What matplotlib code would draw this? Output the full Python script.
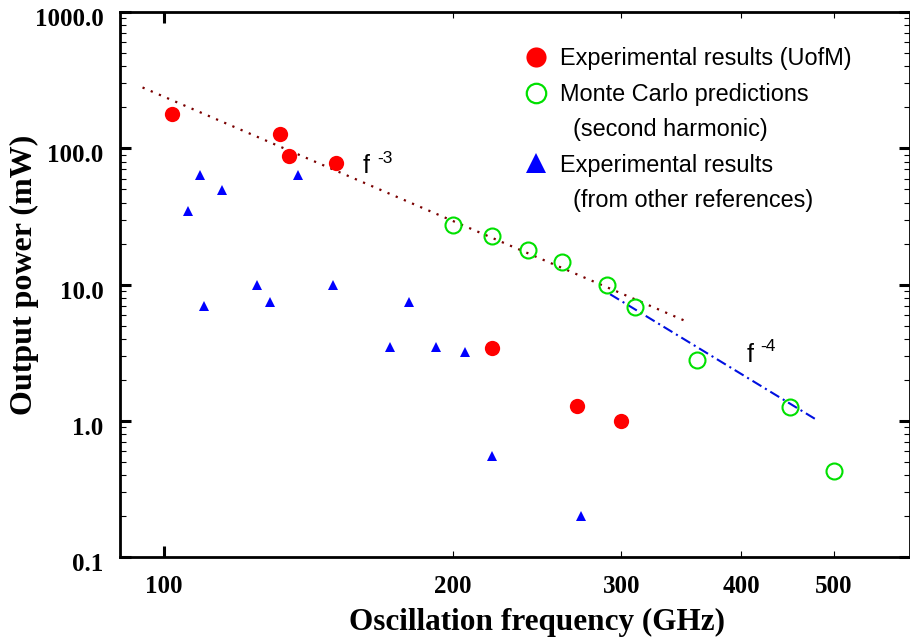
import matplotlib
matplotlib.use('Agg')
import matplotlib.pyplot as plt
import matplotlib.transforms as mtransforms
from matplotlib.lines import Line2D
from matplotlib.ticker import FixedLocator, FixedFormatter, NullFormatter

SERIF = ['Liberation Serif', 'DejaVu Serif']
SANS = ['Liberation Sans', 'DejaVu Sans']

# Experimental results (UofM)
uofm_freq = [102, 132, 135, 151, 220, 270, 300]
uofm_power = [180, 127, 88, 78, 3.45, 1.28, 1.0]

# Monte Carlo predictions (second harmonic)
mc_freq = [200, 220, 240, 260, 290, 310, 360, 450, 500]
mc_power = [27.6, 22.7, 17.8, 14.7, 9.9, 6.9, 2.8, 1.27, 0.425]

# Experimental results from other references
ref_freq = [106, 109, 110, 115, 125, 129, 138, 150, 172, 180, 192, 206, 220, 272]
ref_power = [34.5, 64, 7.0, 49.5, 10, 7.4, 64, 10, 3.5, 7.4, 3.5, 3.2, 0.55, 0.2]

# trend lines (end points)
fit3_freq = [95, 350]
fit3_power = [280, 5.4]
fit4_freq = [292, 478]
fit4_power = [8.5, 1.03]

xticks_minor = [200, 300, 400, 500]
yticks = [0.1, 1, 10, 100, 1000]
ytick_labels = ['0.1', '1.0', '10.0', '100.0', '1000.0']

fig = plt.figure(figsize=(9.1, 6.41), dpi=100)
ax = fig.add_axes([0.1319, 0.131, 0.8681, 0.850])

ax.plot(fit3_freq, fit3_power, linestyle=(0, (1, 3)), color='#7a0000', linewidth=1.6)
ax.plot(fit4_freq, fit4_power, linestyle=(0, (5, 2, 1, 2)), color='#0010e0', linewidth=1.5)

ax.plot(uofm_freq, uofm_power, 'o', color='#ff0000', markersize=11, markeredgewidth=0)
ax.plot(mc_freq, mc_power, 'o', markerfacecolor='none', markeredgecolor='#00e000',
        markersize=11.5, markeredgewidth=1.5)
ax.plot(ref_freq, ref_power, '^', color='#0000ff', markersize=7.5, markeredgewidth=0)

ax.set_xscale('log')
ax.set_yscale('log')
ax.set_xlim(90, 600)
ax.set_ylim(0.1, 1000)

# x ticks: 100 is the heavy one, the rest light
ax.xaxis.set_major_locator(FixedLocator([100]))
ax.xaxis.set_major_formatter(FixedFormatter(['100']))
ax.xaxis.set_minor_locator(FixedLocator(xticks_minor))
ax.xaxis.set_minor_formatter(FixedFormatter([str(v) for v in xticks_minor]))
ax.set_yticks(yticks)
ax.set_yticklabels(ytick_labels)
ax.yaxis.set_minor_formatter(NullFormatter())

ax.tick_params(which='major', direction='in', length=8, width=2.2, top=True, right=True,
               labelsize=18)
ax.tick_params(which='minor', direction='in', length=4, width=0.8, top=True, right=True,
               labelsize=18)
ax.tick_params(axis='x', which='both', pad=13)
ax.tick_params(axis='y', which='both', pad=12)
for lab in ax.get_xticklabels() + ax.get_xticklabels(minor=True) + ax.get_yticklabels():
    lab.set_family(SERIF)
    lab.set_fontweight('bold')
# y labels sit a little below their ticks
shift = mtransforms.ScaledTranslation(0, -0.05, fig.dpi_scale_trans)
for lab in ax.get_yticklabels():
    lab.set_transform(lab.get_transform() + shift)

for s in ax.spines.values():
    s.set_linewidth(2)

ax.set_xlabel('Oscillation frequency (GHz)', family=SERIF, fontweight='bold', fontsize=22.5)
ax.set_ylabel('Output power (mW)', family=SERIF, fontweight='bold', fontsize=23)
ax.xaxis.set_label_coords(0.528, -0.094)
ax.yaxis.set_label_coords(-0.102, 0.517)

# slope annotations
ax.text(0.3076, 0.7046, 'f', transform=ax.transAxes, family=SANS, fontsize=18, va='baseline')
ax.text(0.325, 0.723, '-3', transform=ax.transAxes, family=SANS, fontsize=12.5, va='baseline')
ax.text(0.7937, 0.358, 'f', transform=ax.transAxes, family=SANS, fontsize=18, va='baseline')
ax.text(0.810, 0.378, '-4', transform=ax.transAxes, family=SANS, fontsize=12.5, va='baseline')

# legend
handles = [
    Line2D([], [], marker='o', linestyle='none', color='#ff0000', markersize=14.5, markeredgewidth=0),
    Line2D([], [], marker='o', linestyle='none', markerfacecolor='none',
           markeredgecolor='#00e000', markersize=14, markeredgewidth=1.6),
    Line2D([], [], linestyle='none'),
    Line2D([], [], marker='^', linestyle='none', color='#0000ff', markersize=14, markeredgewidth=0),
    Line2D([], [], linestyle='none'),
]
labels = ['Experimental results (UofM)', 'Monte Carlo predictions', '  (second harmonic)',
          'Experimental results', '  (from other references)']
leg = ax.legend(handles, labels, loc='upper left', bbox_to_anchor=(0.497, 0.957),
                frameon=False, prop={'family': SANS, 'size': 16.9},
                labelspacing=0.53, handlelength=1.0, handletextpad=0.53, borderpad=0)

fig.savefig('out.png', dpi=100)
